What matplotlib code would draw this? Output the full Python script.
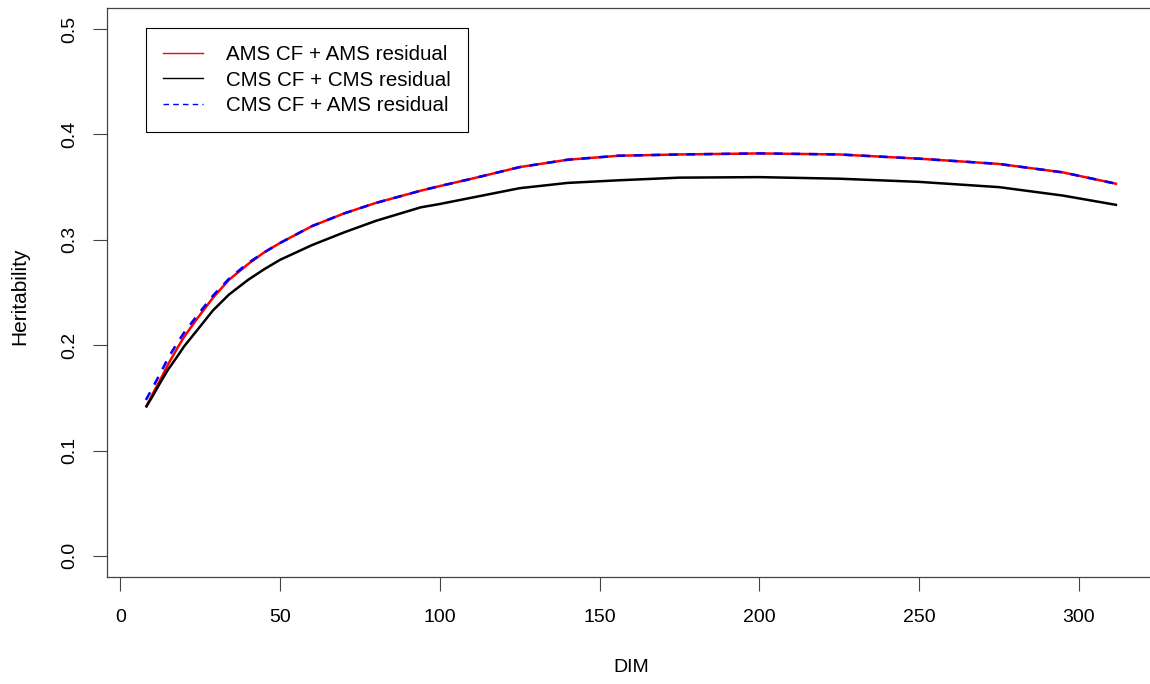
import numpy as np
import matplotlib
matplotlib.use("Agg")
import matplotlib.pyplot as plt
from matplotlib.lines import Line2D

plt.rcParams['font.family'] = ['Liberation Sans', 'DejaVu Sans']

# DIM and heritability curves
dim = [8, 10, 13, 15, 18, 20, 24, 29, 34, 40, 45, 50, 55, 60, 70, 80, 94, 100,
       110, 125, 140, 156, 175, 200, 225, 250, 275, 295, 312]
h_ams_ams = [0.141, 0.153, 0.170, 0.182, 0.198, 0.208, 0.225, 0.245, 0.262,
             0.277, 0.288, 0.297, 0.305, 0.313, 0.325, 0.335, 0.3466, 0.351,
             0.358, 0.369, 0.376, 0.3798, 0.381, 0.382, 0.381, 0.377, 0.372,
             0.364, 0.353]
h_cms_cms = [0.141, 0.151, 0.167, 0.177, 0.190, 0.199, 0.214, 0.233, 0.248,
             0.262, 0.272, 0.281, 0.288, 0.295, 0.307, 0.318, 0.3308, 0.334,
             0.340, 0.349, 0.354, 0.3565, 0.359, 0.3595, 0.358, 0.355, 0.350,
             0.342, 0.333]
h_cms_ams = [0.148, 0.159, 0.176, 0.188, 0.203, 0.212, 0.228, 0.247, 0.263,
             0.278, 0.288, 0.297, 0.305, 0.313, 0.325, 0.335, 0.3466, 0.351,
             0.358, 0.369, 0.376, 0.3798, 0.381, 0.382, 0.381, 0.377, 0.372,
             0.364, 0.353]
labels = ["AMS CF + AMS residual", "CMS CF + CMS residual", "CMS CF + AMS residual"]
xticks = [0, 50, 100, 150, 200, 250, 300]
yticks = [0.0, 0.1, 0.2, 0.3, 0.4, 0.5]

W, H = 1150, 684
fig = plt.figure(figsize=(W / 100, H / 100), dpi=100)
# plot region in pixels (box runs past the right edge like the original)
left, top, right, bottom = 107, 8, 1156, 577
ax = fig.add_axes([left / W, 1 - bottom / H, (right - left) / W, (bottom - top) / H])

ax.plot(dim, h_ams_ams, color="red", lw=1.8, solid_capstyle="butt")
ax.plot(dim, h_cms_cms, color="black", lw=1.8, solid_capstyle="butt")
ax.plot(dim, h_cms_ams, color="blue", lw=1.8, dashes=(3.5, 3.5))

ax.set_xlim(-4.16, 324.16)
ax.set_ylim(-0.02, 0.52)
ax.set_xticks(xticks)
ax.set_xticklabels([str(t) for t in xticks])
ax.set_yticks(yticks)
ax.set_yticklabels(["%.1f" % t for t in yticks], rotation=90, va="center")
ax.tick_params(direction="out", length=10, width=0.8, labelsize=14,
               color="#444444")
ax.tick_params(axis="x", pad=13)
ax.tick_params(axis="y", pad=11)
for s in ax.spines.values():
    s.set_linewidth(0.9)
    s.set_color("#444444")

fig.text(631 / W, 1 - 667 / H, "DIM", ha="center", va="center", fontsize=14)
fig.text(20 / W, 1 - 296 / H, "Heritability", ha="center", va="center",
         rotation=90, fontsize=15)

handles = [Line2D([], [], color="red", lw=1.0),
           Line2D([], [], color="black", lw=1.0),
           Line2D([], [], color="blue", lw=1.0, dashes=(4, 3))]
leg = ax.legend(handles, labels, loc="upper left",
                bbox_to_anchor=(146 / W, 1 - 28 / H), bbox_transform=fig.transFigure,
                borderaxespad=0, fancybox=False, framealpha=1, edgecolor="black",
                fontsize=14.8, handlelength=1.9, handletextpad=1.15,
                labelspacing=0.3, borderpad=0.85)
leg.get_frame().set_linewidth(0.8)

fig.savefig("out.png", dpi=100)
